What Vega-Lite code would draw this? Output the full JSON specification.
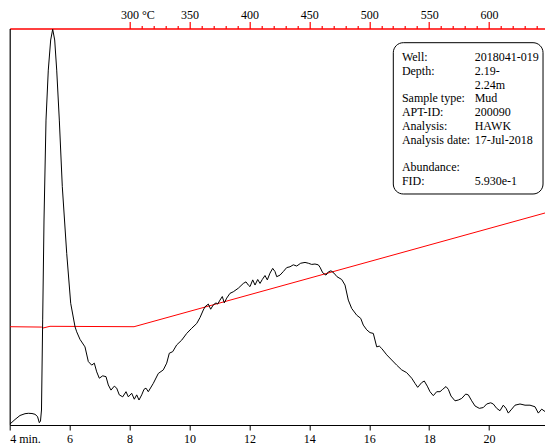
{
  "$schema": "https://vega.github.io/schema/vega-lite/v6.json",
  "width": 535.3,
  "height": 396.5,
  "autosize": {"type": "none"},
  "padding": {"left": 9.7, "top": 28.5, "right": 0, "bottom": 20},
  "background": "white",
  "config": {
    "view": {"stroke": null},
    "font": "Liberation Serif",
    "axis": {"labelFont": "Liberation Serif", "labelFontSize": 12, "labelColor": "black", "grid": false, "title": null}
  },
  "datasets": {
    "oven": [
      {"t": 4.010, "v": 24.79}, {"t": 5.06, "v": 24.7}, {"t": 5.111, "v": 24.46}, {"t": 5.345, "v": 24.89},
      {"t": 8.15, "v": 24.79}, {"t": 21.867, "v": 53.47}
    ],
    "fid": [
      {"t": 4.010, "v": 0.25}, {"t": 4.177, "v": 1.39}, {"t": 4.344, "v": 2.40}, {"t": 4.511, "v": 2.85},
      {"t": 4.621, "v": 2.95}, {"t": 4.744, "v": 2.90}, {"t": 4.844, "v": 2.70}, {"t": 4.928, "v": 2.14},
      {"t": 4.988, "v": 0.58}, {"t": 5.028, "v": 1.01}, {"t": 5.061, "v": 3.78}, {"t": 5.101, "v": 26.5},
      {"t": 5.145, "v": 51.7}, {"t": 5.212, "v": 76.9}, {"t": 5.288, "v": 89.5}, {"t": 5.368, "v": 97.1},
      {"t": 5.435, "v": 99.8}, {"t": 5.502, "v": 97.1}, {"t": 5.569, "v": 89.5}, {"t": 5.656, "v": 76.9},
      {"t": 5.756, "v": 60.1}, {"t": 5.903, "v": 43.3}, {"t": 6.036, "v": 30.7}, {"t": 6.180, "v": 24.8},
      {"t": 6.236, "v": 23.5}, {"t": 6.346, "v": 21.6}, {"t": 6.513, "v": 19.7}, {"t": 6.624, "v": 16.0},
      {"t": 6.737, "v": 15.1}, {"t": 6.824, "v": 15.6}, {"t": 6.904, "v": 13.4}, {"t": 6.991, "v": 11.8},
      {"t": 7.104, "v": 12.4}, {"t": 7.214, "v": 12.2}, {"t": 7.291, "v": 10.1}, {"t": 7.381, "v": 8.8},
      {"t": 7.491, "v": 9.8}, {"t": 7.571, "v": 9.3}, {"t": 7.658, "v": 7.6}, {"t": 7.772, "v": 7.1},
      {"t": 7.882, "v": 8.4}, {"t": 7.959, "v": 7.1}, {"t": 8.072, "v": 8.0}, {"t": 8.159, "v": 6.5},
      {"t": 8.239, "v": 7.6}, {"t": 8.316, "v": 6.3}, {"t": 8.406, "v": 7.6}, {"t": 8.483, "v": 9.0},
      {"t": 8.549, "v": 9.3}, {"t": 8.626, "v": 8.4}, {"t": 8.793, "v": 10.5}, {"t": 8.960, "v": 13.0},
      {"t": 9.127, "v": 13.9}, {"t": 9.240, "v": 15.6}, {"t": 9.327, "v": 18.1}, {"t": 9.441, "v": 18.5},
      {"t": 9.574, "v": 20.2}, {"t": 9.741, "v": 21.4}, {"t": 9.908, "v": 23.1}, {"t": 10.075, "v": 24.4},
      {"t": 10.242, "v": 25.6}, {"t": 10.352, "v": 27.1}, {"t": 10.462, "v": 29.0}, {"t": 10.519, "v": 29.8},
      {"t": 10.629, "v": 30.5}, {"t": 10.709, "v": 29.2}, {"t": 10.796, "v": 30.3}, {"t": 10.886, "v": 30.8},
      {"t": 10.943, "v": 30.5}, {"t": 11.019, "v": 31.5}, {"t": 11.096, "v": 32.4}, {"t": 11.163, "v": 30.8},
      {"t": 11.243, "v": 32.0}, {"t": 11.352, "v": 33.2}, {"t": 11.463, "v": 33.6}, {"t": 11.630, "v": 34.5},
      {"t": 11.797, "v": 35.7}, {"t": 11.887, "v": 36.1}, {"t": 11.964, "v": 35.3}, {"t": 12.021, "v": 34.9},
      {"t": 12.111, "v": 36.6}, {"t": 12.188, "v": 35.3}, {"t": 12.278, "v": 36.7}, {"t": 12.355, "v": 35.7},
      {"t": 12.431, "v": 36.7}, {"t": 12.521, "v": 37.7}, {"t": 12.598, "v": 36.6}, {"t": 12.688, "v": 38.3},
      {"t": 12.778, "v": 39.5}, {"t": 12.855, "v": 38.7}, {"t": 12.912, "v": 37.4}, {"t": 13.022, "v": 37.8},
      {"t": 13.132, "v": 38.7}, {"t": 13.246, "v": 39.7}, {"t": 13.356, "v": 39.9}, {"t": 13.466, "v": 40.4},
      {"t": 13.580, "v": 40.1}, {"t": 13.713, "v": 40.8}, {"t": 13.857, "v": 41.0}, {"t": 13.967, "v": 40.8},
      {"t": 14.080, "v": 40.5}, {"t": 14.190, "v": 40.6}, {"t": 14.300, "v": 40.4}, {"t": 14.357, "v": 39.8},
      {"t": 14.447, "v": 38.4}, {"t": 14.557, "v": 37.8}, {"t": 14.634, "v": 38.6}, {"t": 14.724, "v": 38.9},
      {"t": 14.824, "v": 38.3}, {"t": 14.925, "v": 37.4}, {"t": 15.081, "v": 36.7}, {"t": 15.192, "v": 35.3},
      {"t": 15.302, "v": 31.5}, {"t": 15.415, "v": 29.4}, {"t": 15.582, "v": 27.7}, {"t": 15.716, "v": 26.9},
      {"t": 15.802, "v": 25.2}, {"t": 15.916, "v": 24.0}, {"t": 16.026, "v": 23.3}, {"t": 16.136, "v": 23.1},
      {"t": 16.250, "v": 19.7}, {"t": 16.336, "v": 19.9}, {"t": 16.417, "v": 19.3}, {"t": 16.583, "v": 17.7},
      {"t": 16.750, "v": 16.4}, {"t": 16.917, "v": 15.1}, {"t": 17.084, "v": 13.9}, {"t": 17.251, "v": 13.2},
      {"t": 17.418, "v": 11.8}, {"t": 17.528, "v": 10.5}, {"t": 17.618, "v": 9.5}, {"t": 17.752, "v": 10.7},
      {"t": 17.838, "v": 11.1}, {"t": 17.938, "v": 9.8}, {"t": 18.029, "v": 8.4}, {"t": 18.139, "v": 7.4},
      {"t": 18.252, "v": 8.4}, {"t": 18.363, "v": 8.4}, {"t": 18.453, "v": 9.0}, {"t": 18.563, "v": 9.7},
      {"t": 18.640, "v": 9.0}, {"t": 18.730, "v": 7.3}, {"t": 18.863, "v": 6.1}, {"t": 18.973, "v": 6.3},
      {"t": 19.087, "v": 6.7}, {"t": 19.220, "v": 7.8}, {"t": 19.307, "v": 7.6}, {"t": 19.421, "v": 6.1},
      {"t": 19.531, "v": 4.8}, {"t": 19.674, "v": 4.2}, {"t": 19.808, "v": 4.4}, {"t": 19.921, "v": 5.3},
      {"t": 20.055, "v": 5.6}, {"t": 20.141, "v": 5.3}, {"t": 20.255, "v": 4.2}, {"t": 20.365, "v": 3.6},
      {"t": 20.475, "v": 5.0}, {"t": 20.565, "v": 4.2}, {"t": 20.642, "v": 3.0}, {"t": 20.756, "v": 4.0},
      {"t": 20.866, "v": 5.0}, {"t": 21.033, "v": 5.3}, {"t": 21.200, "v": 5.0}, {"t": 21.366, "v": 5.0},
      {"t": 21.533, "v": 4.6}, {"t": 21.644, "v": 3.0}, {"t": 21.757, "v": 4.0}, {"t": 21.867, "v": 3.4}
    ],
    "info": [
      {"line": 0, "key": "Well:", "value": "2018041-019"},
      {"line": 1, "key": "Depth:", "value": "2.19-"},
      {"line": 2, "key": "", "value": "2.24m"},
      {"line": 3, "key": "Sample type:", "value": "Mud"},
      {"line": 4, "key": "APT-ID:", "value": "200090"},
      {"line": 5, "key": "Analysis:", "value": "HAWK"},
      {"line": 6, "key": "Analysis date:", "value": "17-Jul-2018"},
      {"line": 8, "key": "Abundance:", "value": ""},
      {"line": 9, "key": "FID:", "value": "5.930e-1"}
    ]
  },
  "layer": [
    {
      "data": {"name": "oven"},
      "mark": {"type": "line", "color": "#ff0000", "strokeWidth": 1, "clip": true},
      "encoding": {
        "x": {
          "field": "t", "type": "quantitative",
          "scale": {"domain": [4, 21.867], "nice": false, "zero": false},
          "axis": {
            "orient": "top",
            "values": [8, 8.4, 8.8, 9.2, 9.6, 10, 10.4, 10.8, 11.2, 11.6, 12, 12.4, 12.8, 13.2, 13.6, 14, 14.4, 14.8, 15.2, 15.6, 16, 16.4, 16.8, 17.2, 17.6, 18, 18.4, 18.8, 19.2, 19.6, 20, 20.4, 20.8, 21.2, 21.6],
            "domainColor": "#ff0000", "domainWidth": 1.5,
            "tickColor": "#ff0000", "tickWidth": 1.2,
            "tickSize": {"condition": {"test": "round(300 + 25 * (datum.value - 8)) % 50 == 0", "value": 7}, "value": 3},
            "labelExpr": "round(300 + 25 * (datum.value - 8)) % 50 == 0 ? (datum.value == 8 ? '300 °C' : format(round(300 + 25 * (datum.value - 8)), 'd')) : ''",
            "labelAlign": {"condition": {"test": "datum.value == 8", "value": "left"}, "value": "center"},
            "labelOffset": {"condition": {"test": "datum.value == 8", "value": -9}, "value": 0},
            "labelPadding": 0,
            "labelOverlap": false
          }
        },
        "y": {"field": "v", "type": "quantitative", "scale": {"domain": [0, 100], "nice": false, "zero": false}, "axis": null}
      }
    },
    {
      "data": {"name": "fid"},
      "mark": {"type": "line", "color": "black", "strokeWidth": 1, "clip": true},
      "encoding": {
        "x": {
          "field": "t", "type": "quantitative",
          "scale": {"domain": [4, 21.867], "nice": false, "zero": false},
          "axis": {
            "orient": "bottom",
            "values": [4, 6, 8, 10, 12, 14, 16, 18, 20],
            "domainColor": "black", "tickColor": "black", "tickSize": 5,
            "labelExpr": "datum.value == 4 ? '4 min.' : datum.label",
            "labelAlign": {"condition": {"test": "datum.value == 4", "value": "left"}, "value": "center"},
            "labelPadding": 3,
            "labelOverlap": false
          }
        },
        "y": {
          "field": "v", "type": "quantitative",
          "scale": {"domain": [0, 100], "nice": false, "zero": false},
          "axis": {"orient": "left", "ticks": false, "labels": false, "domainColor": "black", "domainWidth": 1.2}
        }
      }
    },
    {
      "data": {"values": [{"box": "info"}]},
      "mark": {"type": "rect", "cornerRadius": 10, "fill": "white", "stroke": "black", "strokeWidth": 1},
      "encoding": {
        "x": {"datum": 16.804, "type": "quantitative", "axis": null},
        "x2": {"datum": 21.801},
        "y": {"datum": 96.42, "type": "quantitative", "scale": {"domain": [0, 100], "nice": false, "zero": false}, "axis": null},
        "y2": {"datum": 58.26}
      }
    },
    {
      "data": {"name": "info"},
      "mark": {"type": "text", "align": "left", "baseline": "middle", "font": "Liberation Serif", "fontSize": 12, "color": "black"},
      "encoding": {
        "x": {"datum": 17.09, "type": "quantitative", "axis": null},
        "y": {"field": "line", "type": "quantitative", "scale": {"domain": [-2.073, 26.763], "reverse": true, "nice": false, "zero": false}, "axis": null},
        "text": {"field": "key"}
      }
    },
    {
      "data": {"name": "info"},
      "mark": {"type": "text", "align": "left", "baseline": "middle", "font": "Liberation Serif", "fontSize": 12, "color": "black"},
      "encoding": {
        "x": {"datum": 19.52, "type": "quantitative", "axis": null},
        "y": {"field": "line", "type": "quantitative", "scale": {"domain": [-2.073, 26.763], "reverse": true, "nice": false, "zero": false}, "axis": null},
        "text": {"field": "value"}
      }
    }
  ],
  "resolve": {"axis": {"x": "independent", "y": "independent"}, "scale": {"y": "independent"}}
}
